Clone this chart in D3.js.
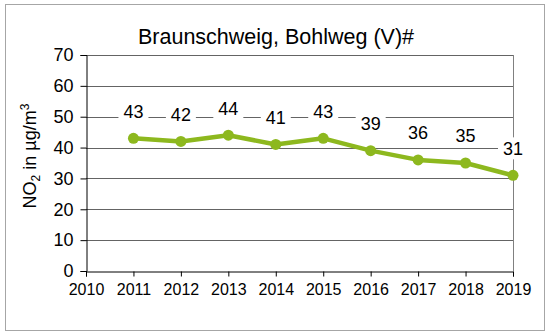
<!DOCTYPE html>
<html><head><meta charset="utf-8">
<script src="https://cdn.jsdelivr.net/npm/d3@7"></script>
<style>body{margin:0;background:#fff}svg{display:block}</style>
</head><body>
<svg id="c" width="550" height="336"></svg>
<script>
const years = [2011,2012,2013,2014,2015,2016,2017,2018,2019];
const values = [43,42,44,41,43,39,36,35,31];
const yTicks = [0,10,20,30,40,50,60,70];
const xTicks = [2010,2011,2012,2013,2014,2015,2016,2017,2018,2019];
const title = "Braunschweig, Bohlweg (V)#";

const svg = d3.select("#c");
const font = "Liberation Sans, Arial, sans-serif";
const m = {l:86, r:513, t:55, b:271};
const x = d3.scaleLinear().domain([2010,2019]).range([m.l,m.r]);
const y = d3.scaleLinear().domain([0,70]).range([m.b,m.t]);

svg.append("rect").attr("x",5.5).attr("y",4.5).attr("width",539).attr("height",326)
  .attr("fill","#fff").attr("stroke","#a6a6a6").attr("stroke-width",1);

svg.append("text").attr("x",276).attr("y",44).attr("text-anchor","middle")
  .attr("font-family",font).attr("font-size",21.5).attr("fill","#000").text(title);

// gridlines
svg.append("g").selectAll("line").data(yTicks.filter(d=>d>0)).join("line")
  .attr("x1",m.l).attr("x2",m.r).attr("y1",d=>Math.round(y(d))+0.5).attr("y2",d=>Math.round(y(d))+0.5)
  .attr("stroke","#646464").attr("stroke-width",1);
// right border
svg.append("line").attr("x1",m.r+0.5).attr("x2",m.r+0.5).attr("y1",m.t).attr("y2",m.b)
  .attr("stroke","#808080");

// y axis
const ya = svg.append("g").attr("transform",`translate(${m.l+0.5},0)`)
  .call(d3.axisLeft(y).tickValues(yTicks).tickSize(6).tickPadding(7));
ya.select(".domain").attr("stroke","#000");
ya.selectAll(".tick line").attr("stroke","#000");
ya.selectAll("text").attr("font-family",font).attr("font-size",18).attr("fill","#000");

// x axis
const xa = svg.append("g").attr("transform",`translate(0,${m.b+0.5})`)
  .call(d3.axisBottom(x).tickValues(xTicks).tickFormat(d3.format("d")).tickSize(5).tickPadding(7));
xa.select(".domain").attr("stroke","#000");
xa.selectAll(".tick line").attr("stroke","#000");
xa.selectAll("text").attr("font-family",font).attr("font-size",16).attr("fill","#000");

// y title
const yt = svg.append("text").attr("transform","translate(36,156) rotate(-90)")
  .attr("text-anchor","middle").attr("font-family",font).attr("font-size",18).attr("fill","#000");
yt.append("tspan").text("NO");
yt.append("tspan").attr("font-size",12).attr("dy",4).text("2");
yt.append("tspan").attr("dy",-4).text(" in µg/m");
yt.append("tspan").attr("font-size",12).attr("dy",-7).text("3");

const data = years.map((yr,i)=>({yr, v:values[i]}));
// line
svg.append("path").datum(data)
  .attr("d", d3.line().x(d=>x(d.yr)).y(d=>y(d.v)))
  .attr("fill","none").attr("stroke","#8db81e").attr("stroke-width",4.5).attr("stroke-linejoin","round");
svg.append("g").selectAll("circle").data(data).join("circle")
  .attr("cx",d=>x(d.yr)).attr("cy",d=>y(d.v)).attr("r",5.5).attr("fill","#8db81e");

// labels with white bg
const lg = svg.append("g").selectAll("g").data(data).join("g")
  .attr("transform",d=>`translate(${x(d.yr)},${y(d.v)-27})`);
lg.append("rect").attr("x",-15).attr("y",-11).attr("width",30).attr("height",22).attr("fill","#fff");
lg.append("text").attr("text-anchor","middle").attr("dy","0.36em")
  .attr("font-family",font).attr("font-size",18).attr("fill","#000").text(d=>d.v);
</script>
</body></html>
